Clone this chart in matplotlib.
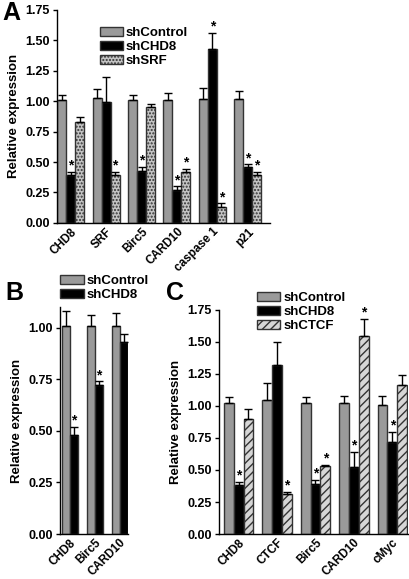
import numpy as np
import matplotlib
matplotlib.use("Agg")
import matplotlib.pyplot as plt

plt.rcParams['font.family'] = ['Liberation Sans', 'DejaVu Sans']
plt.rcParams['font.weight'] = 'bold'
plt.rcParams['hatch.linewidth'] = 1.0

# Panel A data
genes_a = ['CHD8', 'SRF', 'Birc5', 'CARD10', 'caspase 1', 'p21']
ctrl_a = [1.01, 1.03, 1.01, 1.01, 1.02, 1.02]
ctrl_a_err = [0.04, 0.07, 0.04, 0.06, 0.09, 0.06]
chd8_a = [0.39, 0.99, 0.43, 0.27, 1.43, 0.46]
chd8_a_err = [0.03, 0.21, 0.03, 0.03, 0.13, 0.02]
srf_a = [0.83, 0.39, 0.95, 0.42, 0.13, 0.39]
srf_a_err = [0.04, 0.03, 0.03, 0.02, 0.03, 0.03]
# which bars carry an asterisk (ctrl, chd8, knockdown)
star_a = [(0, 1, 0), (0, 0, 1), (0, 1, 0), (0, 1, 1), (0, 1, 1), (0, 1, 1)]

# Panel B data
genes_b = ['CHD8', 'Birc5', 'CARD10']
ctrl_b = [1.01, 1.01, 1.01]
ctrl_b_err = [0.07, 0.05, 0.06]
chd8_b = [0.48, 0.72, 0.93]
chd8_b_err = [0.04, 0.02, 0.04]
star_b = [(0, 1), (0, 1), (0, 0)]

# Panel C data
genes_c = ['CHD8', 'CTCF', 'Birc5', 'CARD10', 'cMyc']
ctrl_c = [1.02, 1.05, 1.02, 1.02, 1.01]
ctrl_c_err = [0.05, 0.13, 0.05, 0.06, 0.07]
chd8_c = [0.38, 1.32, 0.39, 0.52, 0.72]
chd8_c_err = [0.03, 0.18, 0.03, 0.12, 0.08]
ctcf_c = [0.90, 0.31, 0.53, 1.55, 1.16]
ctcf_c_err = [0.08, 0.02, 0.01, 0.13, 0.08]
star_c = [(0, 1, 0), (0, 0, 1), (0, 1, 1), (0, 1, 1), (0, 1, 0)]

GRAY = '#9a9a9a'
EDGE = '#333333'


def draw_series(ax, x, vals, errs, stars, **kw):
    ax.bar(x, vals, width=kw.pop('width'), edgecolor=EDGE, linewidth=1.0, zorder=2, **kw)
    ax.errorbar(x, vals, yerr=[np.zeros(len(vals)), errs], fmt='none',
                ecolor='black', elinewidth=1.0, capsize=3, capthick=1.0, zorder=3)
    for xi, v, e, s in zip(x, vals, errs, stars):
        if s:
            ax.text(xi, v + e - 0.005, '*', ha='center', va='bottom', fontsize=10,
                    fontweight='bold')


def style_axes(ax, genes, ylim, ylabel=True):
    ax.set_ylim(*ylim)
    ax.set_yticks([0, 0.25, 0.5, 0.75, 1.0, 1.25, 1.5, 1.75])
    ax.set_yticklabels(['0.00', '0.25', '0.50', '0.75', '1.00', '1.25', '1.50', '1.75'])
    ax.set_ylim(*ylim)
    ax.set_xticks(range(len(genes)))
    ax.set_xticklabels(genes, rotation=45, ha='right', rotation_mode='anchor')
    ax.tick_params(axis='x', length=0, pad=2, labelsize=8.5)
    ax.tick_params(axis='y', length=3, width=1, direction='out', labelsize=9, pad=2)
    for s in ['top', 'right']:
        ax.spines[s].set_visible(False)
    for s in ['left', 'bottom']:
        ax.spines[s].set_linewidth(1.0)
    if ylabel:
        ax.set_ylabel('Relative expression', fontsize=9.5, fontweight='bold', labelpad=4)


legend_kw = dict(loc='upper left', frameon=False, fontsize=9.5, handlelength=1.8,
                 handleheight=0.65, labelspacing=0.15, handletextpad=0.2,
                 borderpad=0, borderaxespad=0)

fig = plt.figure(figsize=(4.10, 5.79), dpi=100)

# ---- Panel A
axA = fig.add_axes([0.139, 0.615, 0.520, 0.368])
w = 0.254
x = np.arange(len(genes_a))
draw_series(axA, x - w, ctrl_a, ctrl_a_err, [s[0] for s in star_a], width=w, color=GRAY, label='shControl')
draw_series(axA, x, chd8_a, chd8_a_err, [s[1] for s in star_a], width=w, color='black', label='shCHD8')
draw_series(axA, x + w, srf_a, srf_a_err, [s[2] for s in star_a], width=w, color='#c4c4c4',
            hatch='.....', label='shSRF')
axA.set_xlim(-0.385, 5.63)
style_axes(axA, genes_a, (0, 1.75))
axA.legend(bbox_to_anchor=(0.20, 0.92), **legend_kw)

# ---- Panel B
axB = fig.add_axes([0.146, 0.0777, 0.166, 0.392])
w = 0.32
x = np.arange(len(genes_b))
draw_series(axB, x - w / 2, ctrl_b, ctrl_b_err, [s[0] for s in star_b], width=w, color=GRAY, label='shControl')
draw_series(axB, x + w / 2, chd8_b, chd8_b_err, [s[1] for s in star_b], width=w, color='black', label='shCHD8')
axB.set_xlim(-0.40, 2.32)
style_axes(axB, genes_b, (0, 1.10))
axB.set_yticks([0, 0.25, 0.5, 0.75, 1.0])
axB.set_yticklabels(['0.00', '0.25', '0.50', '0.75', '1.00'])
axB.legend(bbox_to_anchor=(0.0, 1.14), **legend_kw)

# ---- Panel C
axC = fig.add_axes([0.534, 0.0777, 0.461, 0.387])
w = 0.255
x = np.arange(len(genes_c))
draw_series(axC, x - w, ctrl_c, ctrl_c_err, [s[0] for s in star_c], width=w, color=GRAY, label='shControl')
draw_series(axC, x, chd8_c, chd8_c_err, [s[1] for s in star_c], width=w, color='black', label='shCHD8')
draw_series(axC, x + w, ctcf_c, ctcf_c_err, [s[2] for s in star_c], width=w, color='#d6d6d6',
            hatch='////', label='shCTCF')
axC.set_xlim(-0.515, 4.41)
style_axes(axC, genes_c, (0, 1.75))
axC.legend(bbox_to_anchor=(0.20, 1.08), **legend_kw)

# panel letters
fig.text(0.005, 0.998, 'A', fontsize=18, fontweight='bold', va='top')
fig.text(0.012, 0.515, 'B', fontsize=18, fontweight='bold', va='top')
fig.text(0.405, 0.515, 'C', fontsize=18, fontweight='bold', va='top')

fig.savefig('out.png', dpi=100)
